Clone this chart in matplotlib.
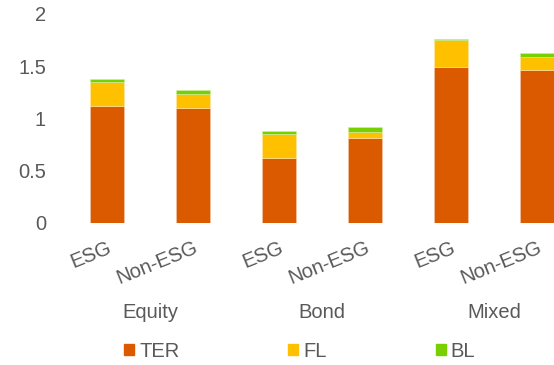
import matplotlib.pyplot as plt
import matplotlib.ticker as mticker
from matplotlib.patches import Patch
import numpy as np

plt.rcParams['font.family'] = ['Liberation Sans', 'DejaVu Sans']

groups = ["Equity", "Bond", "Mixed"]
labels = ["ESG", "Non-ESG", "ESG", "Non-ESG", "ESG", "Non-ESG"]
ter = [1.12, 1.10, 0.62, 0.81, 1.49, 1.46]
fl = [0.23, 0.13, 0.23, 0.06, 0.26, 0.13]
bl = [0.03, 0.04, 0.03, 0.05, 0.01, 0.035]

c_ter = "#DB5A00"
c_fl = "#FFC000"
c_bl = "#78D000"
txt = "#595959"
fs = 14.5

fig = plt.figure(figsize=(5.54, 3.65), dpi=100)
ax = fig.add_axes([64 / 554, 0.39, 516 / 554, 0.5718])

x = np.arange(len(labels))
w = 0.4
ter = np.array(ter)
fl = np.array(fl)
bl = np.array(bl)
ax.bar(x, ter, w, color=c_ter, edgecolor="#F3C9AE", linewidth=0.4)
ax.bar(x, fl, w, bottom=ter, color=c_fl, edgecolor="#FFE9A6", linewidth=0.4)
ax.bar(x, bl, w, bottom=ter + fl, color=c_bl, edgecolor="#D2EEA6", linewidth=0.4)

ax.set_xlim(-0.5, 5.5)
ax.set_ylim(0, 2)
ax.set_yticks([0, 0.5, 1, 1.5, 2])
ax.yaxis.set_major_formatter(mticker.FuncFormatter(lambda v, p: "%g" % v))
ax.set_xticks(x)
ax.set_xticklabels(labels, rotation=22, ha="right", va="top",
                   rotation_mode="anchor")
ax.tick_params(axis="y", length=0, pad=13, labelsize=fs, labelcolor=txt)
ax.tick_params(axis="x", length=0, pad=11, labelsize=fs, labelcolor=txt)
for s in ax.spines.values():
    s.set_visible(False)

# category group labels
for i, g in enumerate(groups):
    ax.text(2 * i + 0.5, -0.43, g, transform=ax.get_xaxis_transform(),
            ha="center", va="center", fontsize=fs, color=txt)

handles = [Patch(color=c_ter, label="TER"), Patch(color=c_fl, label="FL"),
           Patch(color=c_bl, label="BL")]
leg = fig.legend(handles=handles, loc="center", bbox_to_anchor=(0.541, 0.038),
                 ncol=3, frameon=False, fontsize=fs, handlelength=0.5,
                 handleheight=0.5, handletextpad=0.25, columnspacing=5.4)
for t in leg.get_texts():
    t.set_color(txt)

fig.savefig("out.png", dpi=100)
